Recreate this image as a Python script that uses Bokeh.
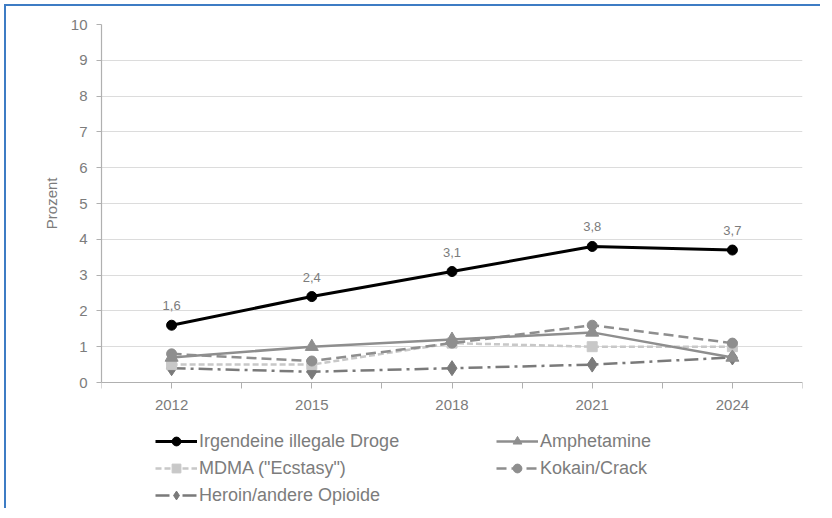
from bokeh.plotting import figure
from bokeh.models import FixedTicker, Legend, LegendItem, LabelSet, ColumnDataSource, Title
from bokeh.embed import file_html
from bokeh.resources import INLINE
from bokeh.core.properties import value

years = [2012, 2015, 2018, 2021, 2024]
irgendeine = [1.6, 2.4, 3.1, 3.8, 3.7]
amphetamine = [0.7, 1.0, 1.2, 1.4, 0.7]
mdma = [0.5, 0.5, 1.1, 1.0, 1.0]
kokain = [0.8, 0.6, 1.1, 1.6, 1.1]
heroin = [0.4, 0.3, 0.4, 0.5, 0.7]
y_ticks = list(range(0, 11))
minor_x = [2010.5, 2013.5, 2016.5, 2019.5, 2022.5, 2025.5]

FONT = "Liberation Sans"
GRAY_TXT = "#7c7c7c"

FRAME_H = 486          # frame runs from y=10 down to the bottom of the canvas
PX_PER_UNIT = 35.8
y_start = 10 - FRAME_H / PX_PER_UNIT

p = figure(width=816, height=504, output_backend="svg", toolbar_location=None,
           x_range=(2010.5, 2025.5), y_range=(y_start, 10))
p.min_border_left = 95
p.min_border_right = 20
p.min_border_top = 18
p.min_border_bottom = 0
p.outline_line_color = None
p.background_fill_color = "white"
p.border_fill_color = "white"

p.xaxis.ticker = FixedTicker(ticks=years, minor_ticks=minor_x)
p.xaxis.fixed_location = 0
p.yaxis.ticker = FixedTicker(ticks=y_ticks)
p.yaxis.bounds = (0, 10)
for ax in (p.xaxis, p.yaxis):
    ax.axis_line_color = "#b0b0b0"
    ax.axis_line_width = 1.2
    ax.major_tick_line_color = "#b0b0b0"
    ax.minor_tick_line_color = "#b0b0b0"
    ax.major_label_text_font = FONT
    ax.major_label_text_color = GRAY_TXT
p.xaxis.major_label_text_font_size = "15px"
p.yaxis.major_label_text_font_size = "15px"
p.xaxis.major_tick_out = 6
p.xaxis.major_tick_in = 0
p.xaxis.minor_tick_out = 6
p.xaxis.minor_tick_in = 0
p.xaxis.major_label_standoff = 11
p.yaxis.major_tick_out = 5
p.yaxis.major_tick_in = 0
p.yaxis.minor_tick_line_color = None
p.yaxis.major_label_standoff = 9

# y-axis title placed so that it is centred on the 0..10 span
ytitle = Title(text="Prozent", align="right", offset=153, standoff=15,
               text_font=FONT, text_font_size="15px", text_font_style="normal",
               text_color=GRAY_TXT)
p.add_layout(ytitle, "left")

p.xgrid.grid_line_color = None
p.ygrid.grid_line_color = "#dcdcdc"
p.ygrid.grid_line_width = 1

series = [
    ("Irgendeine illegale Droge", irgendeine, "#000000", "solid", 3, "circle", 10),
    ("Amphetamine", amphetamine, "#8e8e8e", "solid", 2.5, "triangle", 13),
    ("MDMA (\"Ecstasy\")", mdma, "#c8c8c8", "6 3", 2.5, "square", 10),
    ("Kokain/Crack", kokain, "#8e8e8e", "10 5", 2.5, "circle", 10),
    ("Heroin/andere Opioide", heroin, "#7a7a7a", "14 5 3 5", 2.5, "diamond", 15),
]

items = {}
for idx in [4, 2, 3, 1, 0]:
    name, vals, col, dash, lw, marker, size = series[idx]
    lr = p.line(years, vals, line_color=col, line_width=lw, line_dash=dash)
    sr = p.scatter(years, vals, marker=marker, size=size, fill_color=col, line_color=col)
    items[idx] = LegendItem(label=name, renderers=[lr, sr])

lab_src = ColumnDataSource(dict(x=years, y=irgendeine,
                                t=[f"{v:.1f}".replace(".", ",") for v in irgendeine]))
p.add_layout(LabelSet(x="x", y="y", text="t", source=lab_src, text_align="center",
                      y_offset=15, text_font=value(FONT), text_font_size="13px",
                      text_color=GRAY_TXT))

def make_legend(its, loc):
    lg = Legend(items=its, location=loc, orientation="vertical")
    lg.glyph_width = 42
    lg.glyph_height = 22
    lg.label_height = 22
    lg.spacing = 5
    lg.padding = 0
    lg.margin = 0
    lg.label_standoff = 2
    lg.label_text_font = FONT
    lg.label_text_font_size = "18px"
    lg.label_text_color = GRAY_TXT
    lg.border_line_color = None
    lg.background_fill_alpha = 0
    return lg

p.add_layout(make_legend([items[0], items[2], items[4]], (54, 4)))
p.add_layout(make_legend([items[1], items[3]], (395, 31)))

p.styles = {"border-top": "2px solid #3d7cc4", "border-left": "2px solid #3d7cc4",
            "margin-left": "4px", "margin-top": "4px"}

open("out.html", "w").write(file_html(p, INLINE))
